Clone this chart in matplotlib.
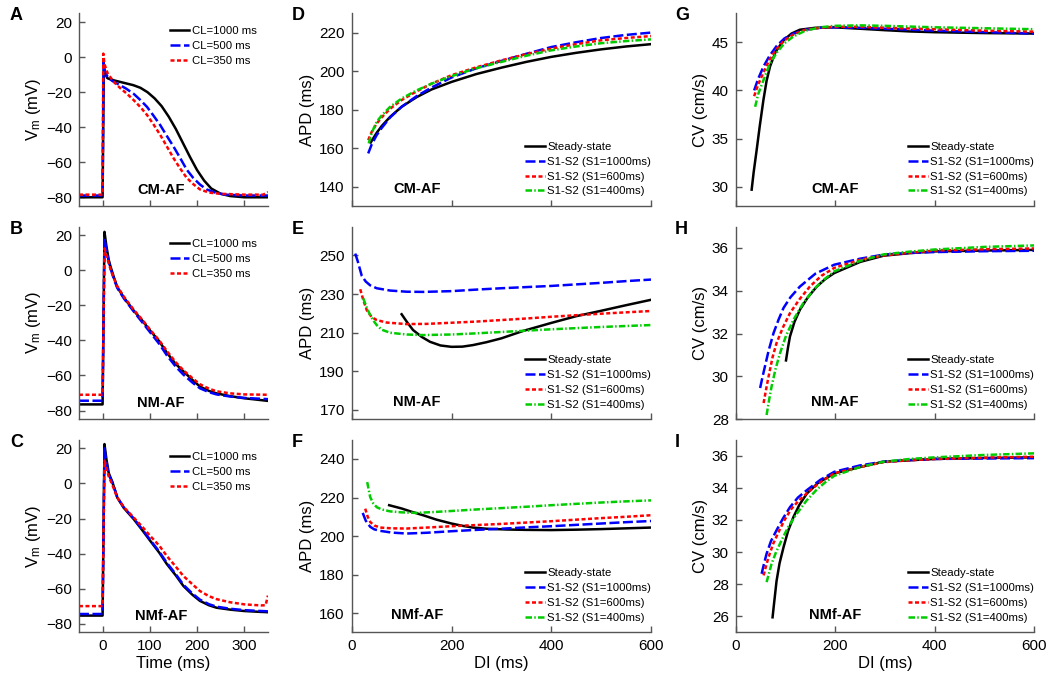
import numpy as np
import matplotlib
matplotlib.use("Agg")
import matplotlib.pyplot as plt

plt.rcParams['font.family'] = ['Liberation Sans', 'DejaVu Sans']
plt.rcParams['mathtext.default'] = 'regular'

# ---- action potentials (time in ms, Vm in mV) ----
# A: CM-AF
tA_1000 = [-50, 0, 2.5, 5, 10, 20, 35, 50, 65, 80, 95, 110, 125, 140, 155, 170, 185, 200, 215, 230, 250, 270, 300, 350]
vA_1000 = [-80, -80, -7.5, -9, -12, -13, -14, -15, -16, -17.5, -20, -23.5, -28, -34, -41, -49, -57, -64.5, -70.5, -75, -78, -79.3, -80, -80]
tA_500 = [-50, 0, 2, 5, 10, 20, 38, 50, 66, 80, 94, 108, 122, 136, 150, 164, 178, 192, 206, 220, 240, 260, 300, 350]
vA_500 = [-79, -79, -3, -8, -11, -13.5, -16.2, -18, -21, -24.5, -28.4, -33.5, -38.8, -45, -51, -57.5, -64.2, -69, -72.7, -75.5, -77.5, -78.5, -79, -79]
tA_350 = [-50, 0, 1.5, 4, 11, 25, 38.6, 52, 66, 80, 94, 108, 122, 136, 150, 164, 178, 192, 206, 225, 248, 300, 340, 350]
vA_350 = [-78.5, -78.5, 2, -4, -9.5, -14.5, -18, -21, -24.6, -28.5, -33, -38.5, -44.4, -51, -57.6, -63.5, -68.9, -72.5, -75.5, -77.3, -78, -78.5, -78.5, -77]

# B: NM-AF
tB = [-50, 0, 4, 8, 13, 17, 24, 31, 45, 66, 85, 101, 120, 136, 155, 171, 190, 206, 225, 241, 270, 300, 350]
vB_1000 = [-76.5, -76.5, 22, 14, 6, 2, -4, -9.5, -15.5, -23, -29, -34.5, -40.5, -47, -53.5, -57.6, -62.5, -66.3, -68.8, -70.2, -71.8, -73, -74.5]
vB_500 = [-74.4, -74.4, 18, 12, 5, 1, -5, -10, -16, -23.5, -30, -35.5, -42, -48.5, -55, -59.5, -64, -67.3, -69.5, -70.8, -72, -72.8, -73.5]
vB_350 = [-71, -71, 12.5, 9, 4, 0.5, -4.5, -9, -15, -22.5, -28.5, -34, -40, -46, -52.5, -57, -61.5, -65, -67.5, -69, -70.2, -70.8, -71]

# C: NMf-AF
tC = [-50, 0, 4, 8, 13, 21, 31, 45, 66, 85, 101, 120, 136, 155, 171, 190, 206, 225, 241, 270, 300, 335, 345, 350]
vC_1000 = [-75.4, -75.4, 22.5, 14, 6, 0.6, -8, -14, -20.4, -27, -32.8, -39.5, -46, -52.5, -58.5, -63.5, -67, -69.5, -70.9, -72, -72.8, -73.3, -73.4, -73.5]
vC_500 = [-74.5, -74.5, 20, 12.5, 5, 0.5, -7.8, -13.7, -20, -26.5, -32.3, -38.9, -45.3, -51.8, -57.8, -62.8, -66.3, -68.9, -70.3, -71.5, -72.3, -72.8, -72.9, -73]
vC_350 = [-70, -70, 13, 9, 4, -1, -8, -13.5, -19.5, -25, -30, -35.5, -41.4, -47.5, -52.8, -57.5, -61.4, -64.3, -66, -67.8, -69, -69.6, -69.5, -64]

# ---- APD restitution (DI ms, APD ms) ----
dD_ss = [38, 50, 60, 77, 100, 130, 160, 200, 250, 300, 350, 400, 450, 500, 550, 600]
aD_ss = [163, 168, 171.5, 176.3, 181.5, 186.5, 190.5, 194.4, 198.5, 201.8, 204.8, 207.4, 209.5, 211.3, 212.8, 214]
dD_1000 = [33, 40, 50, 60, 77, 100, 130, 160, 200, 250, 300, 350, 400, 450, 500, 550, 600]
aD_1000 = [157.3, 162, 166.8, 170.5, 176, 181.5, 187, 191.5, 196.7, 201.5, 205.3, 209, 212.5, 215, 217.2, 218.8, 220]
dD_600 = [33, 40, 50, 60, 77, 100, 130, 160, 200, 250, 300, 350, 400, 450, 500, 550, 600]
aD_600 = [164.2, 168.5, 172.8, 176, 180.5, 185, 189.5, 193.5, 197.9, 202, 205.6, 208.8, 211.7, 214, 216, 217.2, 218.2]
dD_400 = [34, 40, 50, 60, 77, 100, 130, 160, 200, 250, 300, 350, 400, 450, 500, 550, 600]
aD_400 = [162.5, 168, 173.7, 177, 181.5, 185.8, 190, 193.5, 197.4, 201.5, 204.8, 208, 210.8, 212.8, 214.5, 215.6, 216.5]

dE_ss = [100, 112, 123, 140, 157, 178, 200, 222, 243, 270, 300, 343, 400, 450, 500, 550, 600]
aE_ss = [219.5, 215, 211.3, 207.8, 205.2, 203.3, 202.6, 202.7, 203.5, 205, 207, 210.8, 215, 218.5, 221.3, 224.2, 227]
dE_1000 = [7, 12, 20, 28, 37, 50, 77, 110, 143, 200, 250, 300, 350, 400, 450, 500, 550, 600]
aE_1000 = [251, 247, 239.5, 236.5, 234.5, 233, 231.8, 231.2, 231.1, 231.5, 232.3, 233, 233.6, 234.2, 235, 235.8, 236.7, 237.5]
dE_600 = [17, 23, 30, 40, 50, 70, 110, 150, 200, 250, 300, 350, 400, 450, 500, 550, 600]
aE_600 = [232.5, 227, 221.7, 218, 216.5, 215.2, 214.4, 214.5, 215.1, 215.7, 216.5, 217.3, 218.2, 219, 219.8, 220.5, 221.2]
dE_400 = [23, 30, 37, 44, 50, 60, 77, 110, 143, 200, 250, 300, 350, 400, 450, 500, 550, 600]
aE_400 = [227.8, 223, 219, 216, 213.9, 211.5, 209.9, 209, 208.7, 209, 209.6, 210.3, 211, 211.7, 212.3, 212.9, 213.4, 213.9]

dF_ss = [75, 100, 120, 143, 170, 200, 220, 243, 270, 310, 350, 400, 450, 500, 550, 600]
aF_ss = [216, 214.3, 212.6, 210.8, 208.5, 206.5, 205.4, 204.4, 203.8, 203.4, 203.2, 203.1, 203.3, 203.6, 204, 204.4]
dF_1000 = [22, 28, 37, 45, 57, 80, 110, 150, 200, 250, 300, 350, 400, 450, 500, 550, 600]
aF_1000 = [212, 208, 204.8, 203.5, 202.7, 201.8, 201.3, 201.7, 202.5, 203.2, 203.8, 204.5, 205.1, 205.8, 206.5, 207.2, 207.8]
dF_600 = [27, 32, 37, 45, 57, 80, 110, 150, 200, 250, 300, 350, 400, 450, 500, 550, 600]
aF_600 = [214.2, 210, 207.3, 205.5, 204.4, 204, 203.9, 204.4, 205.1, 205.7, 206.3, 207, 207.7, 208.5, 209.3, 210, 210.8]
dF_400 = [31, 34, 37, 43, 50, 60, 77, 100, 130, 160, 200, 250, 300, 350, 400, 450, 500, 550, 600]
aF_400 = [228, 224, 220.2, 217, 215, 213.8, 212.8, 212.3, 212, 212.4, 213, 213.8, 214.5, 215.2, 216, 216.7, 217.4, 218, 218.5]

# ---- CV restitution (DI ms, CV cm/s) ----
dG_ss = [32, 36, 42, 48, 55.6, 62, 69, 80, 96, 112, 129, 160, 198, 250, 300, 350, 400, 500, 600]
cG_ss = [29.7, 31.5, 33.8, 36.2, 39, 41, 42.5, 44, 45.2, 45.9, 46.3, 46.5, 46.55, 46.4, 46.25, 46.12, 46.04, 45.95, 45.9]
dG_s = [37, 45, 56, 68, 82, 98, 116, 140, 170, 198, 250, 300, 400, 500, 600]
cG_1000 = [40, 41.2, 42.5, 43.6, 44.6, 45.4, 45.9, 46.3, 46.5, 46.55, 46.5, 46.4, 46.2, 46.05, 45.9]
cG_600 = [39.4, 40.6, 41.9, 43.2, 44.3, 45.2, 45.8, 46.3, 46.5, 46.6, 46.6, 46.5, 46.35, 46.2, 46.1]
dG_400 = [39, 45, 56, 68, 82, 98, 116, 140, 170, 198, 250, 300, 400, 500, 600]
cG_400 = [38.3, 39.6, 41.1, 42.7, 43.9, 44.9, 45.6, 46.2, 46.55, 46.7, 46.75, 46.7, 46.55, 46.45, 46.35]

dH_ss = [101, 105, 109, 118, 129, 145, 163, 180, 198, 250, 297, 350, 400, 500, 600]
cH_ss = [30.75, 31.35, 31.87, 32.55, 33.12, 33.7, 34.2, 34.55, 34.83, 35.35, 35.64, 35.76, 35.84, 35.88, 35.91]
dH_1000 = [49, 54, 59, 66, 76, 86, 96, 110, 129, 160, 198, 250, 297, 350, 400, 500, 600]
cH_1000 = [29.46, 30, 30.5, 31.2, 32.03, 32.65, 33.2, 33.7, 34.2, 34.8, 35.22, 35.5, 35.69, 35.77, 35.81, 35.85, 35.87]
dH_600 = [56, 61, 66, 74, 82, 95, 109, 128, 149, 172, 198, 250, 297, 350, 400, 500, 600]
cH_600 = [28.76, 29.4, 30, 30.9, 31.56, 32.3, 32.96, 33.6, 34.2, 34.7, 35.07, 35.45, 35.65, 35.78, 35.88, 35.94, 35.98]
dH_400 = [62, 67, 72, 80, 89, 101, 116, 135, 156, 176, 198, 250, 297, 350, 400, 500, 600]
cH_400 = [28.2, 28.9, 29.53, 30.35, 31.09, 31.9, 32.65, 33.4, 34.05, 34.5, 34.91, 35.4, 35.7, 35.83, 35.93, 36.05, 36.12]

dI_ss = [74, 77, 82, 88, 96, 105, 116, 128, 143, 165, 198, 250, 297, 350, 400, 500, 600]
cI_ss = [25.94, 26.8, 28.2, 29.3, 30.3, 31.3, 32.19, 32.95, 33.65, 34.3, 34.9, 35.3, 35.63, 35.72, 35.8, 35.86, 35.9]
dI_1000 = [52, 57, 62, 71, 82, 95, 109, 125, 143, 170, 198, 250, 297, 350, 400, 500, 600]
cI_1000 = [28.65, 29.3, 29.9, 30.7, 31.36, 32.1, 32.8, 33.4, 33.86, 34.5, 35, 35.4, 35.63, 35.73, 35.8, 35.83, 35.85]
dI_600 = [56, 61, 66, 75, 86, 98, 112, 128, 146, 170, 198, 250, 297, 350, 400, 500, 600]
cI_600 = [28.55, 29.15, 29.69, 30.5, 31.25, 32, 32.7, 33.25, 33.75, 34.35, 34.9, 35.3, 35.6, 35.72, 35.8, 35.88, 35.94]
dI_400 = [62, 67, 72, 81, 92, 106, 123, 142, 163, 180, 198, 250, 297, 350, 400, 500, 600]
cI_400 = [28.13, 28.7, 29.27, 30, 30.73, 31.6, 32.4, 33.2, 33.9, 34.35, 34.75, 35.3, 35.63, 35.8, 35.9, 36.05, 36.15]

cl_labels = ['CL=1000 ms', 'CL=500 ms', 'CL=350 ms']
rest_labels = ['Steady-state', 'S1-S2 (S1=1000ms)', 'S1-S2 (S1=600ms)', 'S1-S2 (S1=400ms)']
models = ['CM-AF', 'NM-AF', 'NMf-AF']

# line styles
LW = 1.8
st_black = dict(color='black', lw=LW, ls='-')
st_blue = dict(color='#0000ff', lw=LW, dashes=(4.0, 1.4))
st_red = dict(color='#ff0000', lw=LW, dashes=(1.6, 1.0))
st_green = dict(color='#00cc00', lw=LW, dashes=(2.6, 0.9, 0.6, 0.9))

fig = plt.figure(figsize=(10.5, 6.8), dpi=100)

col_x = [0.0752, 0.335, 0.7007]
col_w = [0.18, 0.285, 0.2844]
row_y = [0.697, 0.3834, 0.070]
row_h = 0.2834

def style(ax):
    for s in ['top', 'right']:
        ax.spines[s].set_visible(False)
    for s in ['left', 'bottom']:
        ax.spines[s].set_color('#555555')
        ax.spines[s].set_linewidth(1.0)
    ax.tick_params(direction='in', length=4, width=1.0, color='#555555',
                   labelsize=11, pad=5)

axs = [[fig.add_axes([col_x[c], row_y[r], col_w[c], row_h]) for c in range(3)] for r in range(3)]

# column 1: action potentials
ap_data = [
    [(tA_1000, vA_1000), (tA_500, vA_500), (tA_350, vA_350)],
    [(tB, vB_1000), (tB, vB_500), (tB, vB_350)],
    [(tC, vC_1000), (tC, vC_500), (tC, vC_350)],
]
for r in range(3):
    ax = axs[r][0]
    sts = [st_black, st_blue, st_red]
    for (t, v), st, lab in zip(ap_data[r], sts, cl_labels):
        ax.plot(t, v, label=lab, **st)
    ax.set_xlim(-50, 350)
    ax.set_ylim(-85, 25)
    ax.set_xticks([0, 100, 200, 300])
    ax.set_yticks([-80, -60, -40, -20, 0, 20])
    ax.set_ylabel('V$_m$ (mV)', fontsize=12, labelpad=2)
    style(ax)
    ax.legend(loc='upper right', bbox_to_anchor=(0.94, 0.935), frameon=False,
              fontsize=8.2, handlelength=1.75, handletextpad=0.2,
              labelspacing=0.45, borderpad=0, borderaxespad=0)
    ax.text(0.434, 0.083, models[r], transform=ax.transAxes, fontsize=10.5,
            fontweight='bold', ha='center', va='center')
    if r < 2:
        ax.set_xticklabels([])
    else:
        ax.set_xlabel('Time (ms)', fontsize=12, labelpad=2)

# columns 2 and 3: restitution curves
apd_data = [
    [(dD_ss, aD_ss), (dD_1000, aD_1000), (dD_600, aD_600), (dD_400, aD_400)],
    [(dE_ss, aE_ss), (dE_1000, aE_1000), (dE_600, aE_600), (dE_400, aE_400)],
    [(dF_ss, aF_ss), (dF_1000, aF_1000), (dF_600, aF_600), (dF_400, aF_400)],
]
apd_ylim = [(130, 230), (165, 265), (150, 250)]
apd_ticks = [[140, 160, 180, 200, 220], [170, 190, 210, 230, 250], [160, 180, 200, 220, 240]]
cv_data = [
    [(dG_ss, cG_ss), (dG_s, cG_1000), (dG_s, cG_600), (dG_400, cG_400)],
    [(dH_ss, cH_ss), (dH_1000, cH_1000), (dH_600, cH_600), (dH_400, cH_400)],
    [(dI_ss, cI_ss), (dI_1000, cI_1000), (dI_600, cI_600), (dI_400, cI_400)],
]
cv_ylim = [(28, 48), (28, 37), (25, 37)]
cv_ticks = [[30, 35, 40, 45], [28, 30, 32, 34, 36], [26, 28, 30, 32, 34, 36]]

for c, data, ylims, ticks, ylab, tx in [(1, apd_data, apd_ylim, apd_ticks, 'APD (ms)', 0.218),
                                        (2, cv_data, cv_ylim, cv_ticks, 'CV (cm/s)', 0.333)]:
    for r in range(3):
        ax = axs[r][c]
        sts = [st_black, st_blue, st_red, st_green]
        for (d, a), st, lab in zip(data[r], sts, rest_labels):
            ax.plot(d, a, label=lab, **st)
        ax.set_xlim(0, 600)
        ax.set_ylim(*ylims[r])
        ax.set_xticks([0, 200, 400, 600])
        ax.set_yticks(ticks[r])
        ax.set_ylabel(ylab, fontsize=12, labelpad=3)
        style(ax)
        ax.legend(loc='lower right', bbox_to_anchor=(1.0, 0.05), frameon=False,
                  fontsize=8.2, handlelength=1.75, handletextpad=0.2,
                  labelspacing=0.42, borderpad=0, borderaxespad=0)
        ax.text(tx, 0.09, models[r], transform=ax.transAxes, fontsize=10.5,
                fontweight='bold', ha='center', va='center')
        if r < 2:
            ax.set_xticklabels([])
        else:
            ax.set_xlabel('DI (ms)', fontsize=12, labelpad=2)

# panel letters
letters = [['A', 'D', 'G'], ['B', 'E', 'H'], ['C', 'F', 'I']]
lx = [10 / 1050, 292 / 1050, 675 / 1050]
ly = [1 - 7 / 680, 1 - 221 / 680, 1 - 434 / 680]
for r in range(3):
    for c in range(3):
        fig.text(lx[c], ly[r], letters[r][c], fontsize=13, fontweight='bold',
                 ha='left', va='top')

plt.savefig('out.png', dpi=100)
